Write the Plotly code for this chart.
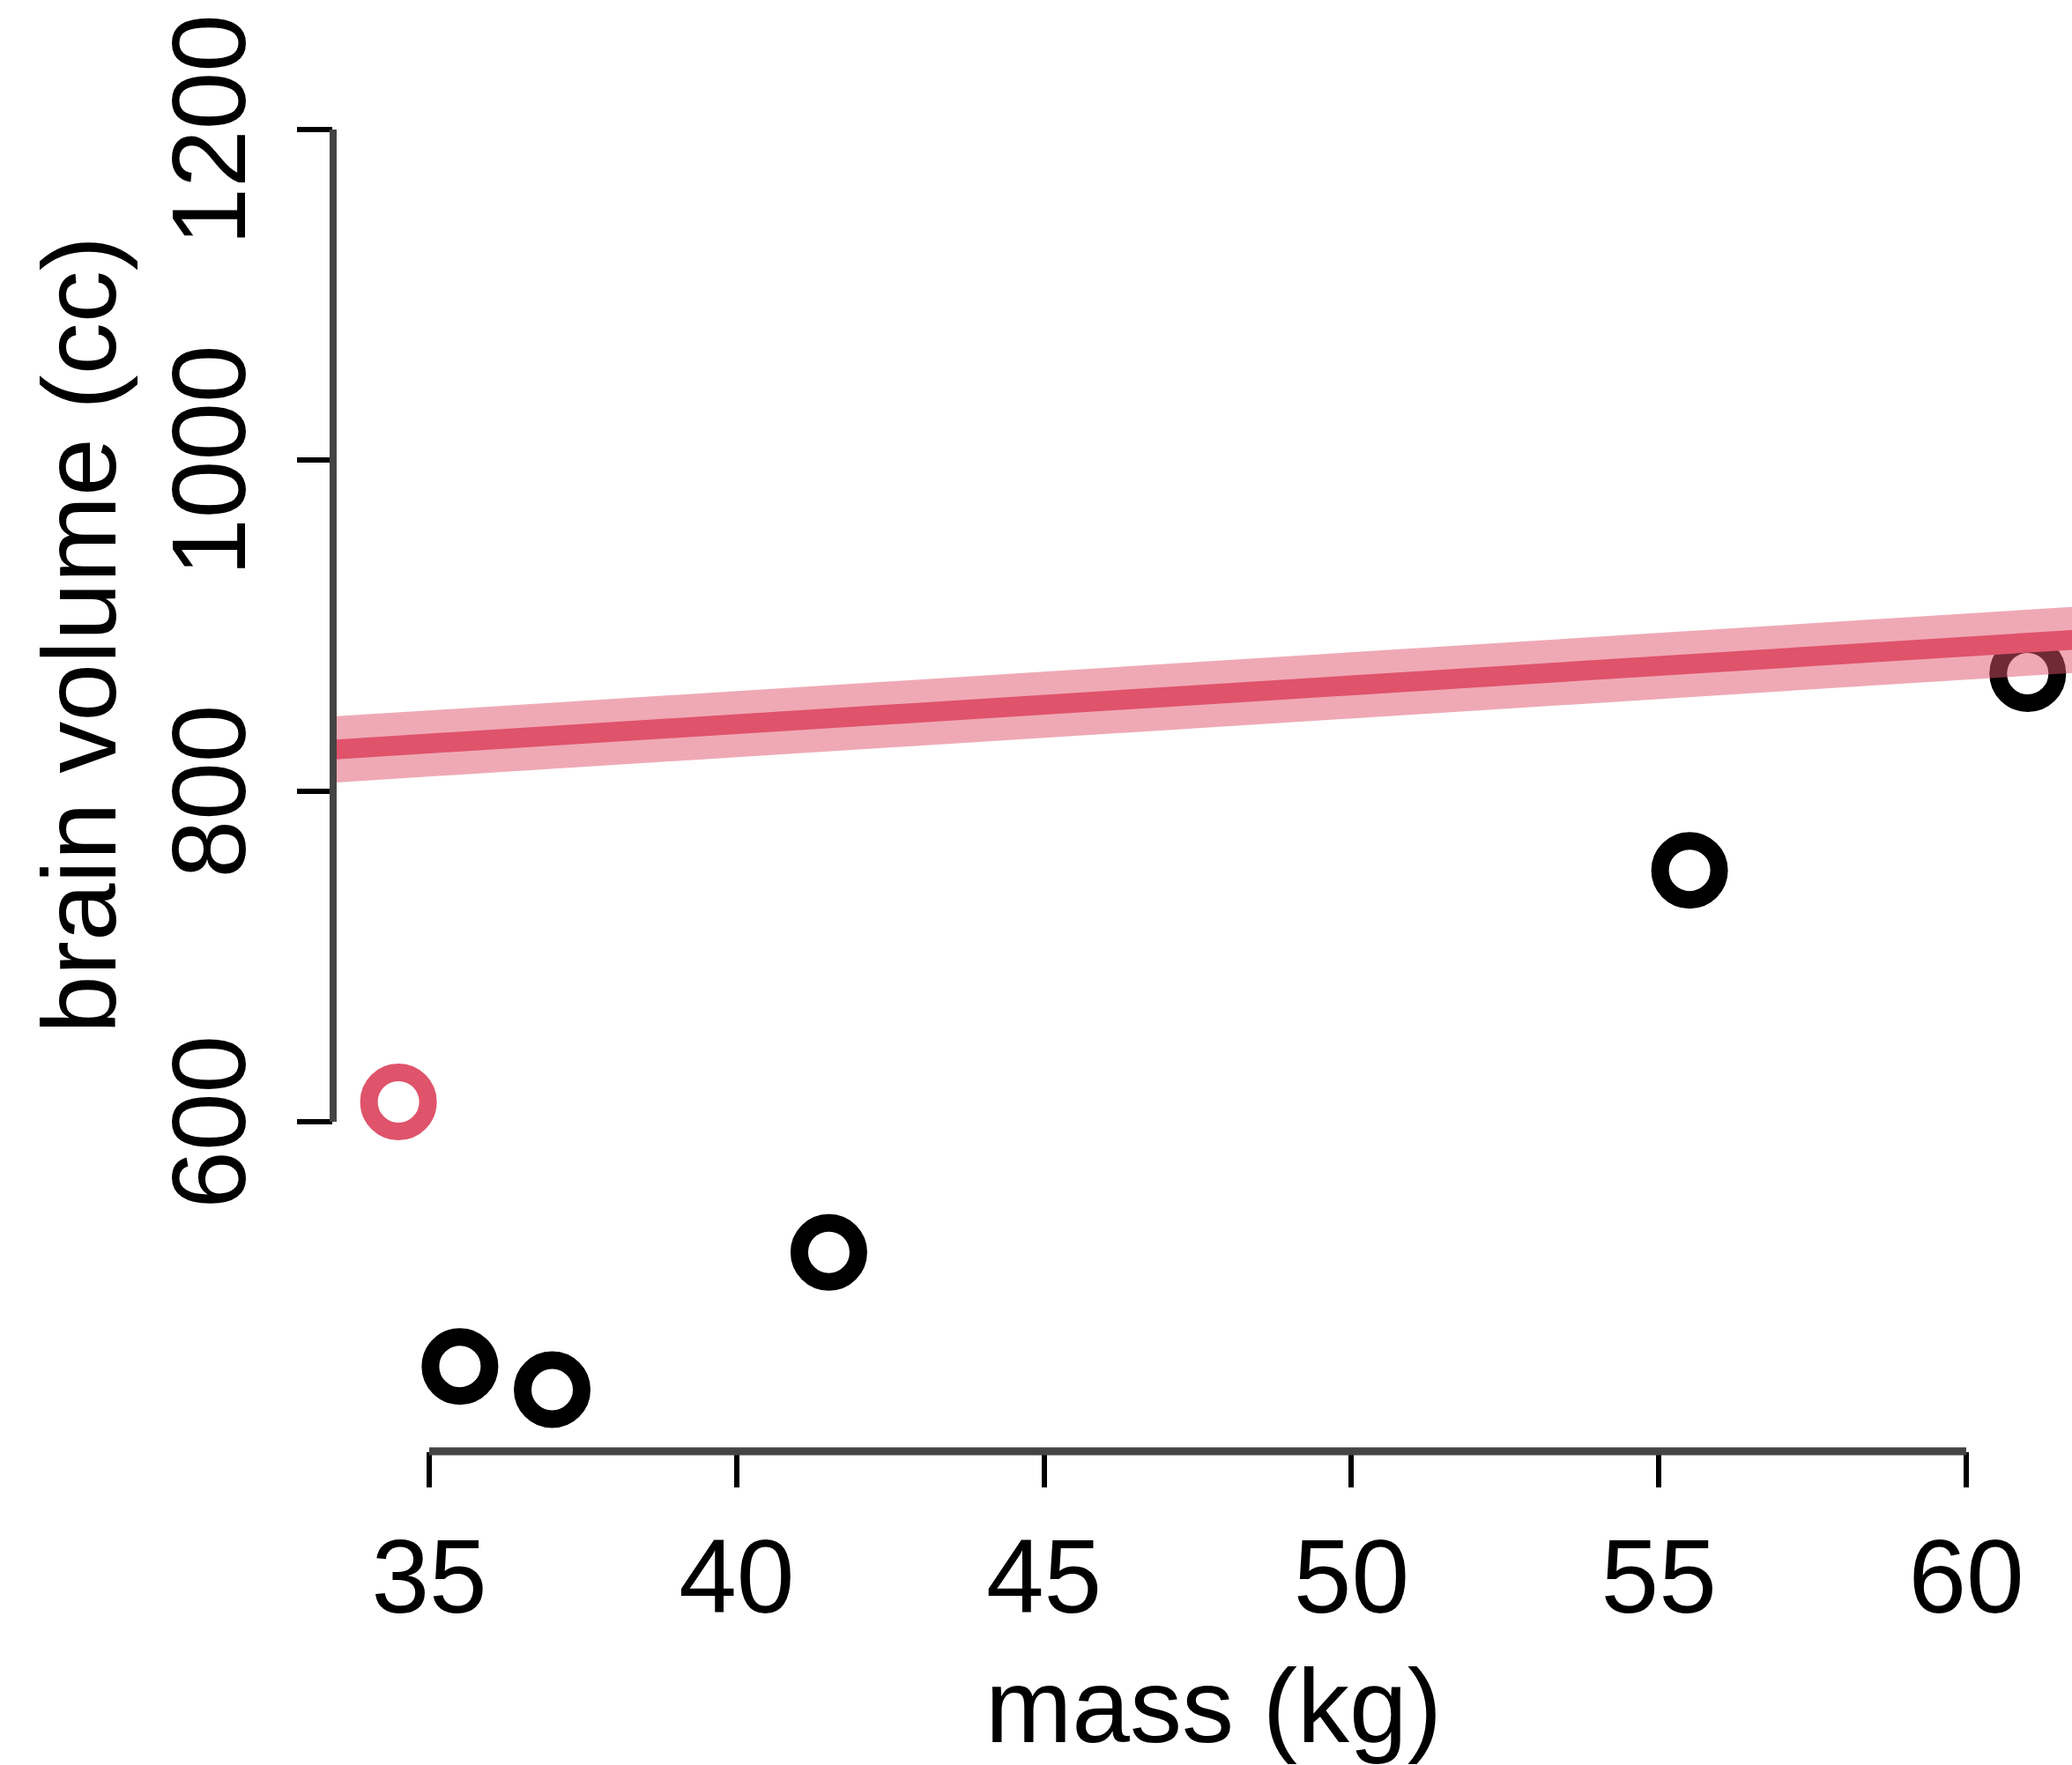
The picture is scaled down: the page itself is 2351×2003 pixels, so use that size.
import plotly.graph_objects as go

# Data
species = ["afarensis", "africanus", "habilis", "boisei", "rudolfensis", "ergaster"]
mass_kg = [37.0, 35.5, 34.5, 41.5, 55.5, 61.0]
brain_cc = [438, 452, 612, 521, 752, 871]
point_colors = ["#000000", "#000000", "#DF536B", "#000000", "#000000", "#000000"]

line_mass = [33.0, 62.0]
line_mu = [824, 892]
line_upper = [844, 912]
line_lower = [804, 872]

x_ticks = [35, 40, 45, 50, 55, 60]
y_ticks = [600, 800, 1000, 1200]

FONT = "Liberation Sans, Arial, Helvetica, sans-serif"
FS = 118
RED = "#DF536B"

fig = go.Figure()

fig.add_trace(go.Scatter(
    x=mass_kg, y=brain_cc, mode="markers",
    marker=dict(symbol="circle-open", size=67,
                line=dict(width=20, color=point_colors), color=point_colors),
    showlegend=False, hoverinfo="skip"))

fig.add_trace(go.Scatter(
    x=line_mass, y=line_lower, mode="lines",
    line=dict(width=0, color="rgba(0,0,0,0)"),
    showlegend=False, hoverinfo="skip"))
fig.add_trace(go.Scatter(
    x=line_mass, y=line_upper, mode="lines", fill="tonexty",
    fillcolor="rgba(223,83,107,0.5)",
    line=dict(width=0, color="rgba(0,0,0,0)"),
    showlegend=False, hoverinfo="skip"))
fig.add_trace(go.Scatter(
    x=line_mass, y=line_mu, mode="lines",
    line=dict(width=22.5, color=RED),
    showlegend=False, hoverinfo="skip"))
# empty trace so the label-only overlay axis exists
fig.add_trace(go.Scatter(x=[], y=[], yaxis="y2", showlegend=False, hoverinfo="skip"))

W, H = 2351, 2003
L, B = 378, 356
Y_RANGE = [400.7, 1278.3]
LABEL_SHIFT = 9.6  # labels in R sit slightly lower than plotly's rotated labels

common_y = dict(tickmode="array", tickvals=y_ticks, tickangle=-90,
                ticks="outside", ticklen=40, tickwidth=6,
                showline=False, showgrid=False, zeroline=False,
                tickfont=dict(family=FONT, size=FS, color="black"),
                ticklabeloverflow="allow", ticklabelstandoff=12,
                automargin=False, fixedrange=True)

fig.update_layout(
    width=W, height=H,
    margin=dict(l=L, r=0, t=0, b=B, pad=0),
    paper_bgcolor="white", plot_bgcolor="white",
    font=dict(family=FONT, size=FS, color="black"),
    xaxis=dict(range=[33.4375, 61.72], tickmode="array", tickvals=x_ticks,
               ticktext=[str(v) for v in x_ticks],
               ticks="outside", ticklen=40, tickwidth=6, tickcolor="black",
               showline=False, showgrid=False, zeroline=False,
               tickfont=dict(family=FONT, size=FS, color="black"),
               ticklabeloverflow="allow",
               automargin=False, fixedrange=True),
    yaxis=dict(range=Y_RANGE, ticktext=["" for v in y_ticks],
               tickcolor="black", **common_y),
    yaxis2=dict(range=[Y_RANGE[0] + LABEL_SHIFT, Y_RANGE[1] + LABEL_SHIFT],
                overlaying="y", side="left", anchor="x",
                ticktext=[str(v) for v in y_ticks],
                tickcolor="rgba(0,0,0,0)", **common_y),
    shapes=[
        dict(type="line", xref="x", yref="paper", x0=x_ticks[0], x1=x_ticks[-1],
             y0=0, y1=0, line=dict(color="#444444", width=9), layer="above"),
        dict(type="line", xref="paper", yref="y", x0=0, x1=0,
             y0=y_ticks[0], y1=y_ticks[-1], line=dict(color="#444444", width=8),
             layer="above"),
    ],
    annotations=[
        dict(text="mass (kg)", xref="paper", yref="paper",
             x=(1377 - L) / (W - L), y=(H - B - 1936) / (H - B),
             xanchor="center", yanchor="middle", showarrow=False,
             font=dict(family=FONT, size=FS, color="black")),
        dict(text="brain volume (cc)", xref="paper", yref="paper",
             x=(90 - L) / (W - L), y=(H - B - 721) / (H - B),
             xanchor="center", yanchor="middle", textangle=-90, showarrow=False,
             font=dict(family=FONT, size=FS, color="black")),
    ],
)

fig.write_html("out.html", config={"displayModeBar": False})
